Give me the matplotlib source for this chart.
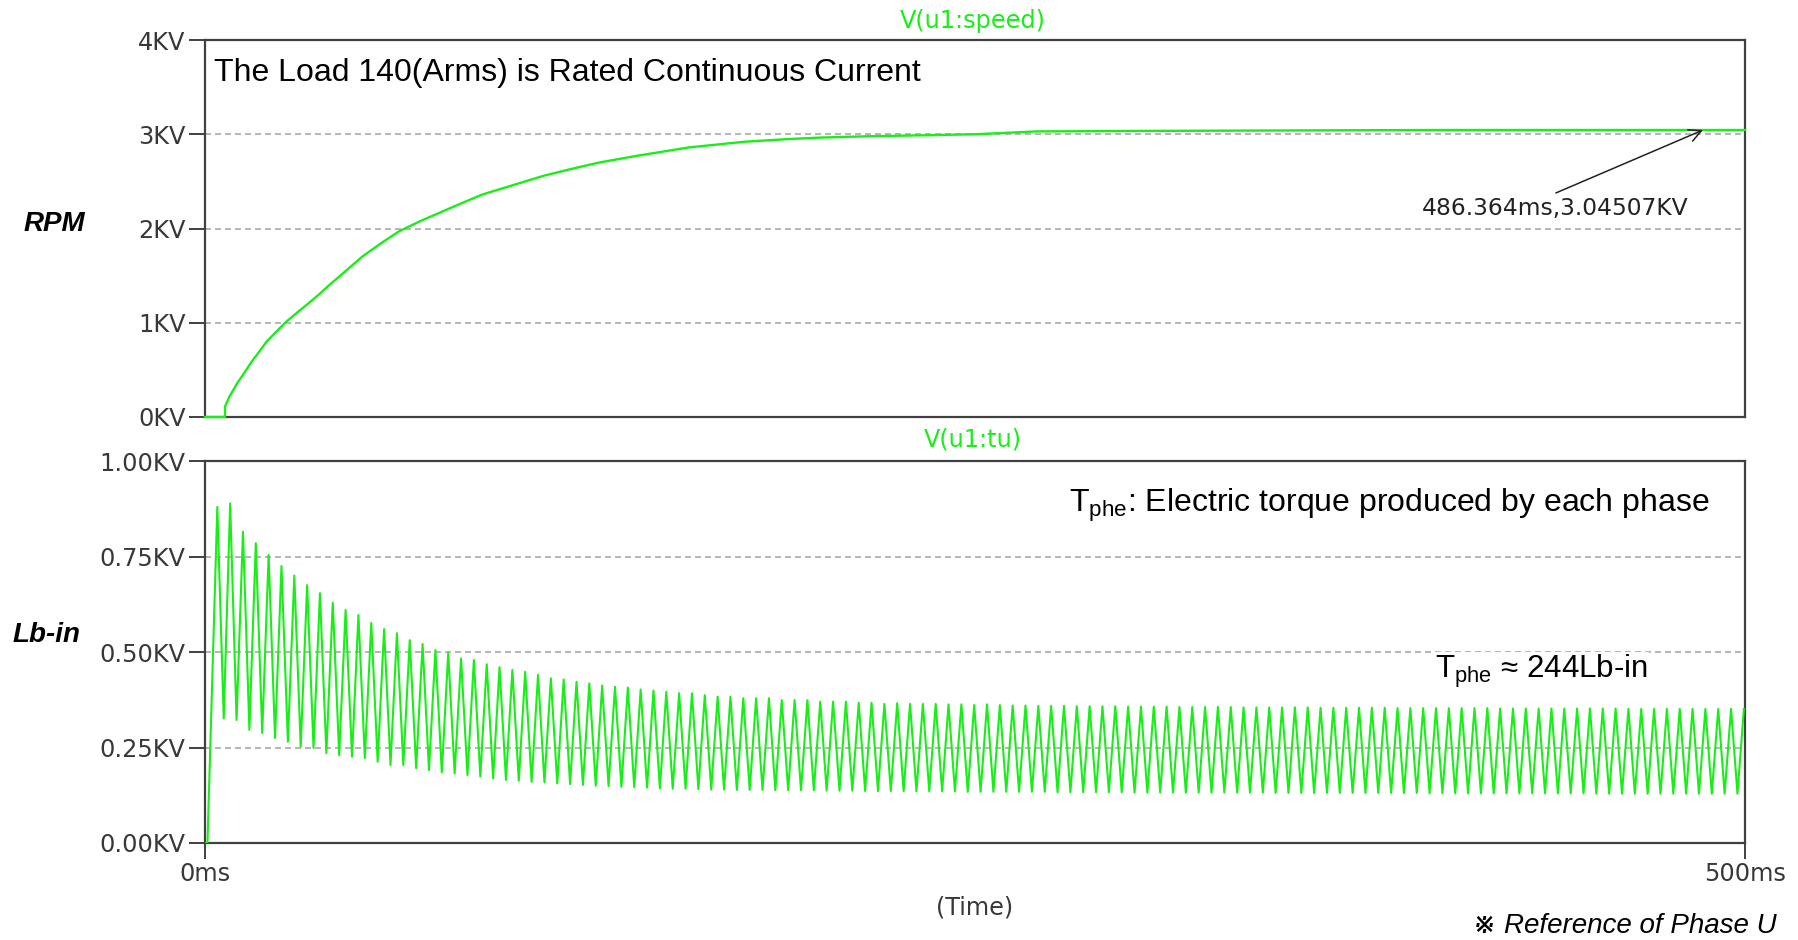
import numpy as np
import matplotlib
matplotlib.use('Agg')
import matplotlib.pyplot as plt

W, H = 1799, 940

# speed trace, V(u1:speed), in KV
speed_t = [0, 6.5, 6.5, 8, 10.5, 13, 15, 18, 20, 23, 26, 30, 33, 37, 40, 45, 51,
           57, 63, 70, 82, 90, 100, 110, 120, 128, 140, 157, 175, 190, 200, 217,
           235, 250, 270, 300, 350, 400, 450, 500]
speed_v = [0, 0, 0.11, 0.22, 0.36, 0.48, 0.58, 0.71, 0.80, 0.90, 1.0, 1.11, 1.19,
           1.30, 1.39, 1.53, 1.70, 1.84, 1.97, 2.08, 2.25, 2.36, 2.46, 2.56, 2.64,
           2.70, 2.77, 2.86, 2.92, 2.95, 2.965, 2.98, 2.99, 3.00, 3.03, 3.035,
           3.04, 3.045, 3.045, 3.045]

# torque trace, V(u1:tu): peak and trough of every cycle, in KV
tq_peak = ([0.880, 0.889, 0.815, 0.785, 0.754, 0.725, 0.700, 0.675, 0.654, 0.629,
            0.610, 0.597, 0.576, 0.560, 0.549,
            0.531, 0.521, 0.505, 0.498, 0.483, 0.479, 0.468, 0.460, 0.453, 0.448,
            0.440, 0.431, 0.428, 0.422, 0.418, 0.412, 0.409, 0.407, 0.402, 0.399,
            0.396, 0.392, 0.392,
            0.387, 0.383, 0.383, 0.379, 0.379, 0.379, 0.374, 0.374, 0.374, 0.370,
            0.370, 0.370, 0.367, 0.367, 0.364, 0.366, 0.364, 0.364, 0.364, 0.363,
            0.363, 0.361, 0.363, 0.361]
           + [0.360] * 2 + [0.359] * 3 + [0.358] * 4 + [0.357] * 4 + [0.356] * 5
           + [0.355] * 6 + [0.354] * 6 + [0.353] * 8 + [0.352] * 10 + [0.351] * 10)
tq_trough = ([0.326, 0.322, 0.296, 0.288, 0.275, 0.265, 0.252, 0.249, 0.235, 0.230,
              0.226, 0.222, 0.213, 0.204,
              0.204, 0.196, 0.191, 0.185, 0.182, 0.178, 0.174, 0.169, 0.165, 0.163,
              0.160, 0.159, 0.156, 0.154, 0.152, 0.150, 0.149, 0.147, 0.146, 0.145,
              0.143, 0.142, 0.142, 0.141,
              0.140, 0.140, 0.139, 0.139, 0.139, 0.138, 0.138, 0.138, 0.138, 0.137,
              0.137, 0.137, 0.136, 0.136, 0.136, 0.136, 0.135, 0.135, 0.135, 0.135,
              0.134, 0.134, 0.134, 0.134]
             + [0.134] * 3 + [0.133] * 6 + [0.132] * 11 + [0.131] * 12
             + [0.130] * 13 + [0.129] * 12)
tq_first_peak = 4.0   # ms
tq_period = 4.165     # ms

speed_ticks = [0, 1, 2, 3, 4]
speed_labels = ['0KV', '1KV', '2KV', '3KV', '4KV']
tq_ticks = [0, 0.25, 0.5, 0.75, 1.0]
tq_labels = ['0.00KV', '0.25KV', '0.50KV', '0.75KV', '1.00KV']
time_ticks = [0, 500]
time_labels = ['0ms', '500ms']

cursor_t, cursor_v = 486.364, 3.04507

# build the torque polyline: start at 0, then peak / trough of each cycle
t_pk = tq_first_peak + tq_period * np.arange(len(tq_peak))
t_tr = t_pk[:len(tq_trough)] + tq_period / 2
tq_t = [0, 0.8]
tq_v = [0, 0]
for i in range(len(tq_peak)):
    tq_t.append(t_pk[i]); tq_v.append(tq_peak[i])
    if i < len(tq_trough):
        tq_t.append(t_tr[i]); tq_v.append(tq_trough[i])

plt.rcParams['font.family'] = ['DejaVu Sans']
plt.rcParams['lines.scale_dashes'] = False

green = '#19ee19'
spine_c = '#404040'
tick_c = '#383838'
grid_c = '#a9a9a9'
sans = ['Liberation Sans', 'DejaVu Sans']


def fx(x, y):
    return x / W, 1 - y / H


fig = plt.figure(figsize=(W / 100, H / 100), dpi=100)
ax1 = fig.add_axes([205 / W, 1 - 417 / H, 1540 / W, 377 / H])
ax2 = fig.add_axes([205 / W, 1 - 843 / H, 1540 / W, 382 / H])

for ax in (ax1, ax2):
    ax.set_xlim(0, 500)
    for s in ax.spines.values():
        s.set_color(spine_c)
        s.set_linewidth(1.6)
        s.set_zorder(2.5)
    ax.yaxis.grid(True, color=grid_c, linestyle=(0, (4.3, 2.9)), linewidth=1.2)
    ax.set_axisbelow(True)
    ax.tick_params(axis='both', direction='out', length=11.5, width=1.4,
                   color=spine_c, labelcolor=tick_c, labelsize=17.3, pad=2.5)

ax1.plot(speed_t, speed_v, color=green, lw=1.7, zorder=3, clip_on=False)
ax1.set_ylim(0, 4)
ax1.set_yticks(speed_ticks)
ax1.set_yticklabels(speed_labels)
ax1.set_xticks([])

ax2.plot(tq_t, tq_v, color=green, lw=1.5, zorder=3)
ax2.set_ylim(0, 1.0)
ax2.set_yticks(tq_ticks)
ax2.set_yticklabels(tq_labels)
ax2.set_xticks(time_ticks)
ax2.set_xticklabels(time_labels)

# cursor readout on the speed trace
ax1.annotate('', xy=(cursor_t, cursor_v), xytext=(438.6, 2.377),
             arrowprops=dict(arrowstyle='->', color='#222222', lw=1.1,
                             mutation_scale=22, shrinkA=0, shrinkB=0))
ax1.text(438.3, 2.207, '%.3fms,%.5fKV' % (cursor_t, cursor_v), ha='center',
         va='center', fontsize=16.8, color='#222222')

# trace names and axis texts
fig.text(*fx(973, 21), 'V(u1:speed)', ha='center', va='center', fontsize=17.3, color=green)
fig.text(*fx(973, 440), 'V(u1:tu)', ha='center', va='center', fontsize=17.3, color=green)
fig.text(*fx(975, 907), '(Time)', ha='center', va='center', fontsize=17.3, color=tick_c)

fig.text(*fx(54, 224), 'RPM', ha='center', va='center', fontsize=20,
         fontweight='bold', fontstyle='italic', family=sans)
fig.text(*fx(47, 635), 'Lb-in', ha='center', va='center', fontsize=20,
         fontweight='bold', fontstyle='italic', family=sans)

fig.text(*fx(214, 81), 'The Load 140(Arms) is Rated Continuous Current',
         ha='left', va='baseline', fontsize=23, family=sans)
fig.text(*fx(1709, 512), r'T$_{\mathregular{phe}}$: Electric torque produced by each phase',
         ha='right', va='baseline', fontsize=23, family=sans)
fig.text(*fx(1435, 678), r'T$_{\mathregular{phe}}$ ≈ 244Lb-in', ha='left', va='baseline',
         fontsize=22.5, family=sans, zorder=6,
         bbox=dict(facecolor='white', edgecolor='none', pad=1))
fig.text(*fx(1777, 933), '※ Reference of Phase U', ha='right', va='baseline',
         fontsize=20, fontstyle='italic', family=sans)

fig.savefig('out.png', dpi=100)
